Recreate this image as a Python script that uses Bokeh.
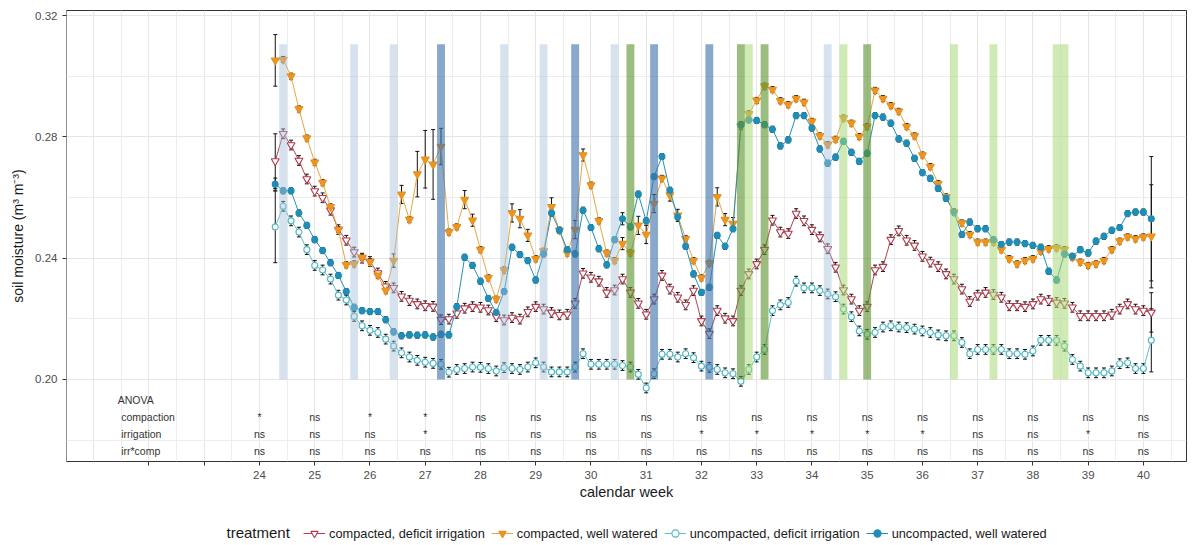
from bokeh.plotting import figure
from bokeh.layouts import column
from bokeh.models import (ColumnDataSource, Whisker, TeeHead, FixedTicker, Legend,
                          LegendItem, Label, Range1d, CustomJSTickFormatter)
from bokeh.core.properties import value
from bokeh.embed import file_html
from bokeh.resources import INLINE

FONT = "Liberation Sans"

# ---------------- data ----------------
# day index counted from the start of calendar week 24
days = list(range(2, 114))

compacted_deficit = [
    0.2720, 0.2810, 0.2773, 0.2722, 0.2661, 0.2621, 0.2599,
    0.2558, 0.2494, 0.2459, 0.2420, 0.2400, 0.2389, 0.2351,
    0.2307, 0.2302, 0.2274, 0.2260, 0.2249, 0.2243, 0.2241,
    0.2197, 0.2199, 0.2218, 0.2235, 0.2240, 0.2238, 0.2229,
    0.2207, 0.2196, 0.2204, 0.2199, 0.2223, 0.2240, 0.2232,
    0.2221, 0.2213, 0.2215, 0.2251, 0.2350, 0.2337, 0.2324,
    0.2287, 0.2295, 0.2331, 0.2287, 0.2251, 0.2215, 0.2265,
    0.2343, 0.2298, 0.2271, 0.2246, 0.2293, 0.2193, 0.2151,
    0.2227, 0.2202, 0.2193, 0.2293, 0.2348, 0.2381, 0.2428,
    0.2525, 0.2486, 0.2481, 0.2547, 0.2523, 0.2494, 0.2470,
    0.2431, 0.2370, 0.2295, 0.2265, 0.2227, 0.2240, 0.2361,
    0.2372, 0.2461, 0.2490, 0.2459, 0.2442, 0.2406, 0.2387,
    0.2372, 0.2348, 0.2331, 0.2298, 0.2257, 0.2278, 0.2287,
    0.2280, 0.2271, 0.2243, 0.2243, 0.2240, 0.2249, 0.2265,
    0.2260, 0.2254, 0.2251, 0.2238, 0.2210, 0.2210, 0.2210,
    0.2210, 0.2215, 0.2232, 0.2249, 0.2232, 0.2227, 0.2221,
]

compacted_well = [
    0.3052, 0.3055, 0.3000, 0.2892, 0.2796, 0.2716, 0.2649,
    0.2569, 0.2494, 0.2378, 0.2381, 0.2403, 0.2389, 0.2343,
    0.2293, 0.2392, 0.2610, 0.2527, 0.2677, 0.2726, 0.2709,
    0.2768, 0.2486, 0.2503, 0.2593, 0.2525, 0.2428, 0.2335,
    0.2265, 0.2361, 0.2549, 0.2530, 0.2475, 0.2398, 0.2423,
    0.2569, 0.2492, 0.2417, 0.2494, 0.2740, 0.2641, 0.2523,
    0.2417, 0.2392, 0.2448, 0.2417, 0.2508, 0.2478, 0.2580,
    0.2663, 0.2608, 0.2541, 0.2464, 0.2392, 0.2335, 0.2383,
    0.2602, 0.2527, 0.2514, 0.2835, 0.2876, 0.2920, 0.2967,
    0.2956, 0.2919, 0.2906, 0.2926, 0.2914, 0.2851, 0.2803,
    0.2774, 0.2792, 0.2862, 0.2845, 0.2801, 0.2834, 0.2953,
    0.2926, 0.2903, 0.2884, 0.2834, 0.2803, 0.2740, 0.2702,
    0.2646, 0.2602, 0.2552, 0.2516, 0.2478, 0.2453, 0.2453,
    0.2453, 0.2428, 0.2398, 0.2381, 0.2392, 0.2398, 0.2423,
    0.2431, 0.2434, 0.2428, 0.2403, 0.2387, 0.2376, 0.2381,
    0.2392, 0.2428, 0.2456, 0.2470, 0.2464, 0.2470, 0.2472,
]

uncompacted_deficit = [
    0.2503, 0.2571, 0.2523, 0.2486, 0.2428, 0.2376, 0.2361,
    0.2331, 0.2278, 0.2262, 0.2208, 0.2177, 0.2162, 0.2155,
    0.2133, 0.2110, 0.2088, 0.2074, 0.2063, 0.2057, 0.2053,
    0.2050, 0.2024, 0.2033, 0.2036, 0.2041, 0.2040, 0.2036,
    0.2028, 0.2039, 0.2036, 0.2033, 0.2041, 0.2055, 0.2041,
    0.2025, 0.2025, 0.2025, 0.2041, 0.2085, 0.2050, 0.2050,
    0.2050, 0.2050, 0.2046, 0.2041, 0.2017, 0.1972, 0.2019,
    0.2083, 0.2083, 0.2074, 0.2085, 0.2072, 0.2044, 0.2040,
    0.2033, 0.2022, 0.2019, 0.1994, 0.2033, 0.2074, 0.2099,
    0.2227, 0.2246, 0.2254, 0.2324, 0.2302, 0.2302, 0.2293,
    0.2282, 0.2273, 0.2232, 0.2207, 0.2160, 0.2149, 0.2155,
    0.2173, 0.2177, 0.2173, 0.2171, 0.2166, 0.2160, 0.2155,
    0.2147, 0.2144, 0.2144, 0.2122, 0.2085, 0.2099, 0.2099,
    0.2099, 0.2099, 0.2085, 0.2085, 0.2083, 0.2094, 0.2129,
    0.2129, 0.2129, 0.2110, 0.2066, 0.2044, 0.2022, 0.2022,
    0.2022, 0.2028, 0.2052, 0.2055, 0.2036, 0.2036, 0.2129,
]

uncompacted_well = [
    0.2644, 0.2622, 0.2622, 0.2549, 0.2508, 0.2461, 0.2425,
    0.2385, 0.2343, 0.2290, 0.2238, 0.2227, 0.2224, 0.2224,
    0.2197, 0.2157, 0.2144, 0.2147, 0.2146, 0.2147, 0.2140,
    0.2149, 0.2147, 0.2240, 0.2403, 0.2376, 0.2324, 0.2267,
    0.2221, 0.2290, 0.2436, 0.2412, 0.2392, 0.2328, 0.2414,
    0.2549, 0.2492, 0.2428, 0.2414, 0.2558, 0.2501, 0.2431,
    0.2378, 0.2461, 0.2530, 0.2503, 0.2611, 0.2523, 0.2669,
    0.2735, 0.2624, 0.2536, 0.2439, 0.2348, 0.2287, 0.2304,
    0.2475, 0.2439, 0.2497, 0.2840, 0.2856, 0.2854, 0.2840,
    0.2825, 0.2770, 0.2790, 0.2870, 0.2870, 0.2829, 0.2760,
    0.2713, 0.2733, 0.2785, 0.2749, 0.2719, 0.2746, 0.2870,
    0.2865, 0.2845, 0.2793, 0.2779, 0.2729, 0.2682, 0.2663,
    0.2630, 0.2597, 0.2552, 0.2478, 0.2519, 0.2497, 0.2497,
    0.2461, 0.2445, 0.2453, 0.2453, 0.2448, 0.2442, 0.2436,
    0.2357, 0.2328, 0.2414, 0.2406, 0.2428, 0.2417, 0.2456,
    0.2472, 0.2492, 0.2501, 0.2547, 0.2552, 0.2552, 0.2530,
]

# standard errors: typical value per series + visible larger ones (by day)
se_typical = {"cdi": 0.0016, "cww": 0.0010, "udi": 0.0016, "uww": 0.0010}
se_large = {
    "cdi": {2: 0.0090, 113: 0.0065},
    "cww": {2: 0.0085, 17: 0.0022, 18: 0.0030, 20: 0.0075, 21: 0.0095,
            22: 0.0115, 23: 0.0060, 26: 0.0030, 27: 0.0020, 32: 0.0030,
            33: 0.0030, 34: 0.0020, 37: 0.0030, 40: 0.0030, 41: 0.0020,
            46: 0.0020, 48: 0.0030, 49: 0.0030, 50: 0.0030, 52: 0.0020,
            53: 0.0020, 58: 0.0030, 59: 0.0020, 60: 0.0020, 113: 0.0170},
    "udi": {2: 0.0118, 113: 0.0104},
    "uww": {2: 0.0020, 46: 0.0020, 113: 0.0205},
}

# irrigation event days (bars)
events_light_blue = [3, 12, 17, 31, 36, 45, 72]
events_dark_blue = [23, 40, 50, 57]
events_light_green = [62, 74, 88, 93, 101, 102]
events_dark_green = [47, 61, 64, 77]

week_ticks = list(range(22, 41))
anova_weeks = list(range(24, 41))
anova_compaction = ["*", "ns", "*", "*", "ns", "ns", "ns", "ns", "ns",
                    "ns", "ns", "ns", "ns", "ns", "ns", "ns", "ns"]
anova_irrigation = ["ns", "ns", "ns", "*", "ns", "ns", "ns", "ns", "*",
                    "*", "*", "*", "*", "ns", "ns", "*", "ns"]
anova_interaction = ["ns"] * 17
anova_rows = ["compaction", "irrigation", "irr*comp"]

# key, label, values, line colour, marker, marker edge, marker fill, size
series = [
    ("cdi", "compacted, deficit irrigation", compacted_deficit, "#b4404f",
     "inverted_triangle", "#b23a4c", "white", 8),
    ("cww", "compacted, well watered", compacted_well, "#e8a540",
     "inverted_triangle", "#e8901c", "#ee9420", 8),
    ("udi", "uncompacted, deficit irrigation", uncompacted_deficit, "#5cc0c8",
     "circle", "#4fb8c2", "white", 6),
    ("uww", "uncompacted, well watered", uncompacted_well, "#2590b6",
     "circle", "#1f8db5", "#1f8db5", 6),
]

# ---------------- main figure ----------------
p = figure(width=1200, height=515, output_backend="svg", toolbar_location=None,
           x_range=Range1d(20.507, 40.78), y_range=Range1d(0.17296, 0.32165),
           min_border_left=66, min_border_right=14, min_border_top=10,
           min_border_bottom=54)
p.outline_line_color = "#333333"
p.outline_line_width = 1
p.background_fill_color = "white"

week_x = [24 + d / 7 for d in days]

for key, label, vals, lcol, marker, mcol, fill, size in series:
    se = [se_large[key].get(d, se_typical[key]) for d in days]
    src = ColumnDataSource(dict(
        x=week_x, y=vals,
        lo=[v - s for v, s in zip(vals, se)],
        hi=[v + s for v, s in zip(vals, se)],
    ))
    p.line("x", "y", source=src, line_color=lcol, line_width=1)
    wk = Whisker(source=src, base="x", lower="lo", upper="hi",
                 line_color="#111111", line_width=1,
                 upper_head=TeeHead(size=4, line_color="#111111", line_width=1),
                 lower_head=TeeHead(size=4, line_color="#111111", line_width=1))
    p.add_layout(wk)
    p.scatter("x", "y", source=src, marker=marker, size=size,
              line_color=mcol, fill_color=fill, line_width=1.1)

# irrigation bars (semi-transparent, drawn on top)
bar_sets = [
    (events_light_blue, "#a3c0da", 0.45),
    (events_dark_blue, "#3f74ad", 0.62),
    (events_light_green, "#a8d978", 0.55),
    (events_dark_green, "#5e9430", 0.62),
]
for ev, col, alpha in bar_sets:
    p.vbar(x=[24 + d / 7 for d in ev], width=1 / 7, bottom=0.20, top=0.3105,
           fill_color=col, fill_alpha=alpha, line_color=None)

# ANOVA table
txt_col = "#333333"
p.text(x=[21.435], y=[0.1931], text=["ANOVA"], text_font=value(FONT),
       text_font_size="10.5px", text_color=txt_col, text_baseline="middle",
       text_align="left")
row_y = [0.18756, 0.1821, 0.1765]
p.text(x=[21.497] * 3, y=row_y, text=anova_rows, text_font=value(FONT),
       text_font_size="10.5px", text_color=txt_col, text_baseline="middle",
       text_align="left")
for yy, row in zip(row_y, [anova_compaction, anova_irrigation, anova_interaction]):
    p.text(x=anova_weeks, y=[yy] * len(anova_weeks), text=row,
           text_font=value(FONT), text_font_size="10.5px", text_color=txt_col,
           text_baseline="middle", text_align="center")

# grids
p.xgrid.ticker = FixedTicker(ticks=list(range(21, 41)),
                             minor_ticks=[w + 0.5 for w in range(20, 41)])
p.xgrid.grid_line_color = "#e6e6e6"
p.xgrid.minor_grid_line_color = "#ededed"
p.ygrid.ticker = FixedTicker(ticks=[0.20, 0.24, 0.28, 0.32],
                             minor_ticks=[0.18, 0.22, 0.26, 0.30])
p.ygrid.grid_line_color = "#e6e6e6"
p.ygrid.minor_grid_line_color = "#ededed"

# axes
p.xaxis.ticker = FixedTicker(ticks=week_ticks)
p.xaxis.major_label_overrides = {22: "", 23: ""}
p.yaxis.ticker = FixedTicker(ticks=[0.20, 0.24, 0.28, 0.32])
p.yaxis.formatter = CustomJSTickFormatter(code="return tick.toFixed(2);")
for ax in (p.xaxis[0], p.yaxis[0]):
    ax.axis_line_color = None
    ax.major_tick_line_color = "#333333"
    ax.major_tick_out = 4
    ax.major_tick_in = 0
    ax.minor_tick_line_color = None
    ax.major_label_text_font = FONT
    ax.major_label_text_font_size = "11.5px"
    ax.major_label_text_color = "#4d4d4d"
    ax.axis_label_text_font = FONT
    ax.axis_label_text_font_style = "normal"
    ax.axis_label_text_color = "#1a1a1a"
p.xaxis.axis_label = "calendar week"
p.xaxis.axis_label_text_font_size = "14.5px"
p.xaxis.axis_label_standoff = 2
p.yaxis.axis_label = "soil moisture (m\u00b3 m\u207b\u00b3)"
p.yaxis.axis_label_text_font_size = "14px"
p.yaxis.axis_label_standoff = 6

# ---------------- legend strip ----------------
# the strip's frame is aligned with the main frame (page x 66..1186)
lg = figure(width=1200, height=30, output_backend="svg", toolbar_location=None,
            x_range=Range1d(66, 1186), y_range=Range1d(0, 30),
            x_axis_type=None, y_axis_type=None,
            min_border_left=66, min_border_right=14, min_border_top=0,
            min_border_bottom=0)
lg.outline_line_color = None
lg.xgrid.visible = False
lg.ygrid.visible = False

items = []
for key, label, vals, lcol, marker, mcol, fill, size in series:
    lr = lg.line(x=[-50, -40], y=[-50, -50], line_color=lcol, line_width=1)
    sr = lg.scatter(x=[-50], y=[-50], marker=marker, size=size,
                    line_color=mcol, fill_color=fill, line_width=1.1)
    items.append(LegendItem(label=label, renderers=[lr, sr]))

legend = Legend(items=items, orientation="horizontal", location=(237, 3),
                label_text_font=FONT, label_text_font_size="12.8px",
                label_text_color="#1a1a1a", glyph_width=22, glyph_height=18,
                label_standoff=4, spacing=6, padding=0, margin=0,
                border_line_color=None, background_fill_alpha=0)
lg.add_layout(legend)
lg.add_layout(Label(x=226, y=13, text="treatment", text_font=FONT,
                    text_font_size="15px", text_color="#1a1a1a",
                    text_baseline="middle"))

layout = column(p, lg, spacing=0)
open("out.html", "w").write(file_html(layout, INLINE))
